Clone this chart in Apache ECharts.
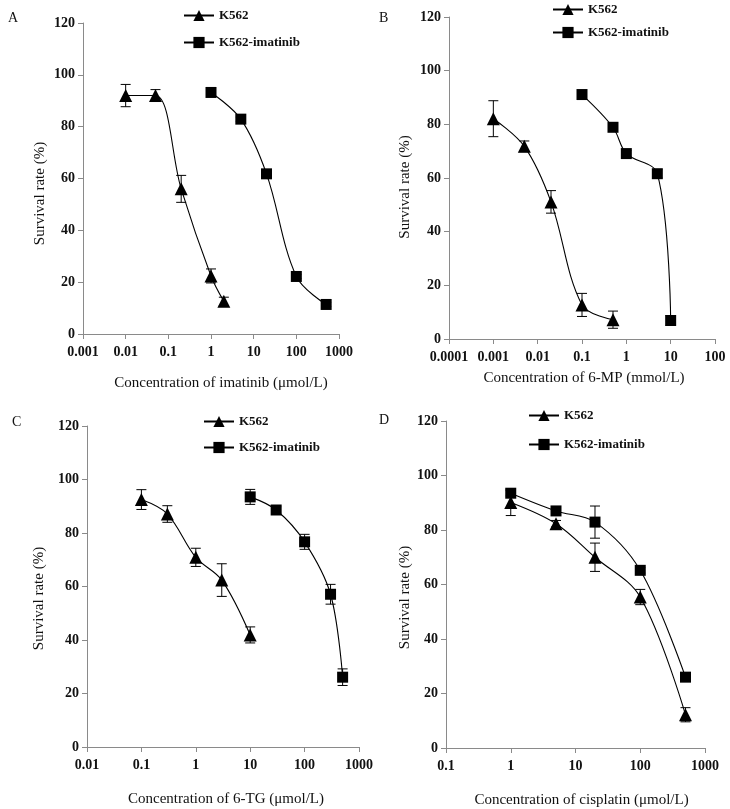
<!DOCTYPE html>
<html>
<head>
<meta charset="utf-8">
<script src="https://cdn.jsdelivr.net/npm/echarts@6/dist/echarts.min.js"></script>
<style>
html,body{margin:0;padding:0;background:#fff;}
#chart{width:730px;height:809px;}
</style>
</head>
<body>
<div id="chart"></div>
<script>
// ---- Data ----
const seriesNames = ['K562', 'K562-imatinib'];
const panelLetters = ['A', 'B', 'C', 'D'];
const xTitles = [
  'Concentration of imatinib (\u03bcmol/L)',
  'Concentration of 6-MP (mmol/L)',
  'Concentration of 6-TG (\u03bcmol/L)',
  'Concentration of cisplatin (\u03bcmol/L)'
];
const yTitle = 'Survival rate (%)';
const yTickLabels = ['0', '20', '40', '60', '80', '100', '120'];
const xTickLabelsA = ['0.001', '0.01', '0.1', '1', '10', '100', '1000'];
const xTickLabelsB = ['0.0001', '0.001', '0.01', '0.1', '1', '10', '100'];
const xTickLabelsC = ['0.01', '0.1', '1', '10', '100', '1000'];
const xTickLabelsD = ['0.1', '1', '10', '100', '1000'];

// Panel A: imatinib
const concA_K562 = [0.01, 0.05, 0.2, 1, 2];
const survA_K562 = [92, 92, 56, 22.4, 12.6];
const sdA_K562 = [4.3, 2.3, 5.2, 2.7, 1.6];
const concA_Res = [1, 5, 20, 100, 500];
const survA_Res = [93.2, 82.9, 61.8, 22.2, 11.4];
const sdA_Res = [0.8, 0.8, 0.8, 0.8, 0.8];

// Panel B: 6-MP
const concB_K562 = [0.001, 0.005, 0.02, 0.1, 0.5];
const survB_K562 = [82.1, 71.8, 51.1, 12.7, 7.2];
const sdB_K562 = [6.7, 2, 4.2, 4.3, 3.2];
const concB_Res = [0.1, 0.5, 1, 5, 10];
const survB_Res = [91.1, 78.9, 69.1, 61.6, 6.9];
const sdB_Res = [1.5, 1.5, 1.2, 1.5, 1.8];

// Panel C: 6-TG
const concC_K562 = [0.1, 0.3, 1, 3, 10];
const survC_K562 = [92.5, 87.1, 70.9, 62.4, 41.9];
const sdC_K562 = [3.7, 3.1, 3.4, 6.1, 3];
const concC_Res = [10, 30, 100, 300, 500];
const survC_Res = [93.5, 88.6, 76.7, 57.1, 26.1];
const sdC_Res = [2.8, 1.2, 2.8, 3.7, 3.1];

// Panel D: cisplatin
const concD_K562 = [1, 5, 20, 100, 500];
const survD_K562 = [90.1, 82.3, 70, 55.4, 12.2];
const sdD_K562 = [4.8, 1.2, 5.2, 2.8, 2.6];
const concD_Res = [1, 5, 20, 100, 500];
const survD_Res = [93.5, 87, 82.9, 65.2, 26];
const sdD_Res = [1, 1, 5.9, 1, 1];

// ---- Layout ----
const panels = [
  {grid:{left:83, top:23, width:256, height:311}, xmin:0.001, xmax:1000, ticks:xTickLabelsA,
   k:[concA_K562, survA_K562, sdA_K562], r:[concA_Res, survA_Res, sdA_Res],
   letter:{left:3, top:6}, legend:{left:183, top:8, gap:13}, yGap:35, yPad:30, xGap:42, xPad:20},
  {grid:{left:449, top:17, width:266, height:322}, xmin:0.0001, xmax:100, ticks:xTickLabelsB,
   k:[concB_K562, survB_K562, sdB_K562], r:[concB_Res, survB_Res, sdB_Res],
   letter:{left:374, top:6}, legend:{left:552, top:2, gap:9}, yGap:36, yPad:18, xGap:32, xPad:4},
  {grid:{left:87, top:426, width:272, height:321}, xmin:0.01, xmax:1000, ticks:xTickLabelsC,
   k:[concC_K562, survC_K562, sdC_K562], r:[concC_Res, survC_Res, sdC_Res],
   letter:{left:7, top:410}, legend:{left:203, top:414, gap:12}, yGap:40, yPad:24, xGap:45, xPad:6},
  {grid:{left:446, top:421, width:259, height:327}, xmin:0.1, xmax:1000, ticks:xTickLabelsD,
   k:[concD_K562, survD_K562, sdD_K562], r:[concD_Res, survD_Res, sdD_Res],
   letter:{left:374, top:408}, legend:{left:528, top:408, gap:14}, yGap:33, yPad:26, xGap:45, xPad:12}
];

const serif = '"Liberation Serif", "Times New Roman", serif';
const axisGray = '#8a8a8a';

function pairs(xs, ys) { return xs.map((x, i) => [x, ys[i]]); }
function errs(xs, ys, sd) { return xs.map((x, i) => [x, ys[i] - sd[i], ys[i] + sd[i]]); }

function renderErr(params, api) {
  const x = api.value(0), lo = api.value(1), hi = api.value(2);
  const p1 = api.coord([x, hi]);
  const p2 = api.coord([x, lo]);
  const w = 5;
  const st = {stroke:'#000', lineWidth:1};
  return {type:'group', children:[
    {type:'line', shape:{x1:p1[0], y1:p1[1], x2:p2[0], y2:p2[1]}, style:st},
    {type:'line', shape:{x1:p1[0]-w, y1:p1[1], x2:p1[0]+w, y2:p1[1]}, style:st},
    {type:'line', shape:{x1:p2[0]-w, y1:p2[1], x2:p2[0]+w, y2:p2[1]}, style:st}
  ]};
}

const grids = [], xAxes = [], yAxes = [], series = [], legends = [], titles = [];
panels.forEach((p, i) => {
  grids.push(Object.assign({containLabel:false}, p.grid));
  const startExp = Math.round(Math.log10(p.xmin));
  xAxes.push({
    gridIndex:i, type:'log', logBase:10, min:p.xmin, max:p.xmax, splitNumber:10,
    name:xTitles[i], nameLocation:'middle', nameGap:p.xGap,
    nameTextStyle:{fontFamily:serif, fontSize:15, color:'#111', padding:[0,0,0,p.xPad]},
    axisLine:{lineStyle:{color:axisGray, width:1}},
    axisTick:{show:true, inside:false, length:5, lineStyle:{color:axisGray}},
    minorTick:{show:false}, splitLine:{show:false},
    axisLabel:{fontFamily:serif, fontWeight:'bold', fontSize:14, color:'#111', margin:11,
      formatter:(v) => p.ticks[Math.round(Math.log10(v)) - startExp]}
  });
  yAxes.push({
    gridIndex:i, type:'value', min:0, max:120, interval:20,
    name:yTitle, nameLocation:'middle', nameGap:p.yGap,
    nameTextStyle:{fontFamily:serif, fontSize:15, color:'#111', padding:[0,p.yPad,0,0]},
    axisLine:{show:true, lineStyle:{color:axisGray, width:1}},
    axisTick:{show:true, length:5, lineStyle:{color:axisGray}},
    splitLine:{show:false},
    axisLabel:{fontFamily:serif, fontWeight:'bold', fontSize:14, color:'#111', margin:8,
      formatter:(v) => yTickLabels[Math.round(v / 20)]}
  });
  const lineCommon = {type:'line', xAxisIndex:i, yAxisIndex:i, smooth:0.35,
    lineStyle:{color:'#000', width:1.1}, itemStyle:{color:'#000'}, z:3};
  series.push({type:'custom', xAxisIndex:i, yAxisIndex:i, renderItem:renderErr,
    data:errs(p.k[0], p.k[1], p.k[2]), encode:{x:0, y:[1,2]}, z:2, silent:true});
  series.push({type:'custom', xAxisIndex:i, yAxisIndex:i, renderItem:renderErr,
    data:errs(p.r[0], p.r[1], p.r[2]), encode:{x:0, y:[1,2]}, z:2, silent:true});
  series.push(Object.assign({}, lineCommon, {name:seriesNames[0], symbol:'triangle', symbolSize:13,
    data:pairs(p.k[0], p.k[1])}));
  series.push(Object.assign({}, lineCommon, {name:seriesNames[1], symbol:'rect', symbolSize:11,
    data:pairs(p.r[0], p.r[1])}));
  legends.push({left:p.legend.left, top:p.legend.top + 1, orient:'vertical', itemGap:p.legend.gap + (i === 3 ? 2 : 1),
    padding:0, itemWidth:30, itemHeight:14, data:seriesNames,
    textStyle:{fontFamily:serif, fontWeight:'bold', fontSize:13, color:'#111'}, selectedMode:false});
  titles.push({text:panelLetters[i], left:p.letter.left, top:p.letter.top,
    textStyle:{fontFamily:serif, fontWeight:'normal', fontSize:14, color:'#111'}});
});

const chart = echarts.init(document.getElementById('chart'), null, {renderer:'canvas'});
chart.setOption({
  animation:false,
  backgroundColor:'#fff',
  title:titles,
  grid:grids,
  xAxis:xAxes,
  yAxis:yAxes,
  legend:legends,
  series:series
});
</script>
</body>
</html>
